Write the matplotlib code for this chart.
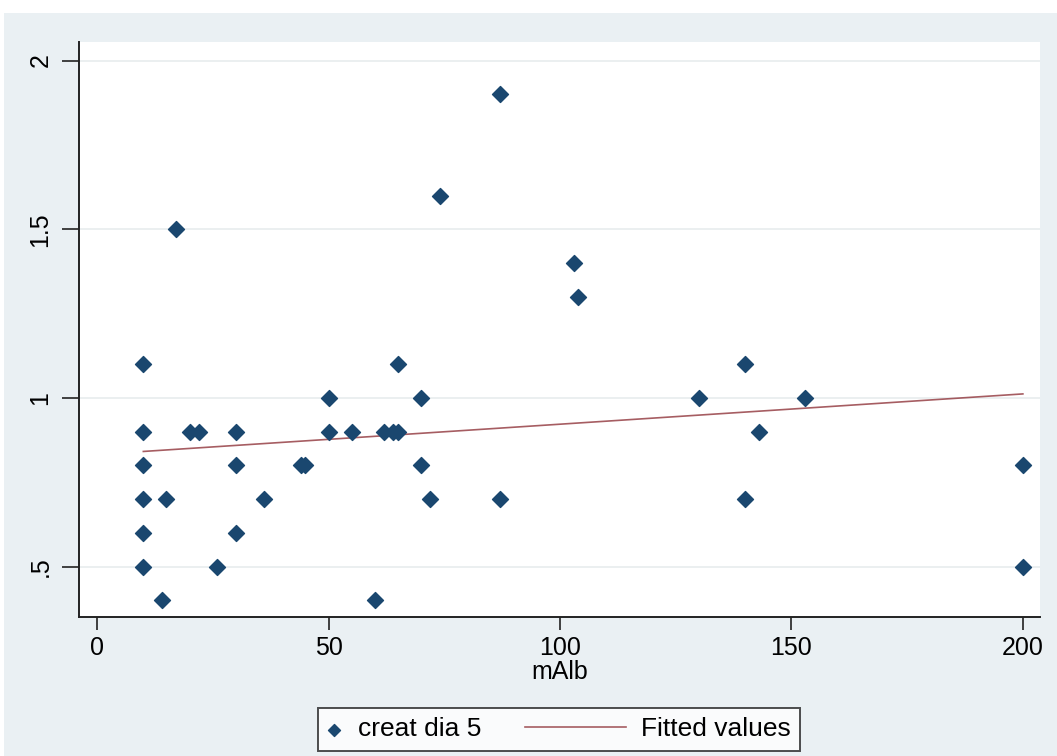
import numpy as np
import matplotlib
matplotlib.use('Agg')
import matplotlib.pyplot as plt
from matplotlib.patches import Rectangle
from matplotlib.legend_handler import HandlerLine2D

plt.rcParams['font.family'] = ['Liberation Sans', 'DejaVu Sans']

# data
malb = [87, 74, 17, 103, 104,
        10, 65, 140,
        50, 70, 130, 153,
        10, 20, 22, 30, 50, 55, 62, 64, 65, 143,
        10, 30, 44, 45, 70, 200,
        10, 15, 36, 72, 87, 140,
        10, 30,
        10, 26, 200,
        14, 60]
creat = [1.9, 1.6, 1.5, 1.4, 1.3,
         1.1, 1.1, 1.1,
         1.0, 1.0, 1.0, 1.0,
         0.9, 0.9, 0.9, 0.9, 0.9, 0.9, 0.9, 0.9, 0.9, 0.9,
         0.8, 0.8, 0.8, 0.8, 0.8, 0.8,
         0.7, 0.7, 0.7, 0.7, 0.7, 0.7,
         0.6, 0.6,
         0.5, 0.5, 0.5,
         0.4, 0.4]
x = np.array(malb, dtype=float)
y = np.array(creat)
b, a = np.polyfit(x, y, 1)
xs = np.array([x.min(), x.max()])
fit = a + b * xs

bg = '#eaf0f3'
navy = '#1a476f'
maroon = '#90353b'


class LongLine(HandlerLine2D):
    # line handle that reaches back to the left of its box
    def get_xdata(self, legend, xdescent, ydescent, width, height, fontsize):
        xd = np.array([-xdescent - 3.25 * fontsize, width - xdescent + 0.1 * fontsize])
        return xd, xd


fig = plt.figure(figsize=(10.57, 7.56), dpi=100)
fig.patches.append(Rectangle((4 / 1057, 0), 1, 1 - 13 / 756, transform=fig.transFigure,
                             facecolor=bg, edgecolor='none', zorder=-10))
ax = fig.add_axes([79 / 1057, 1 - 617 / 756, 961 / 1057, 575 / 756])
ax.set_facecolor('white')

ax.scatter(x, y, marker='D', s=66, color=navy, edgecolors=navy, zorder=3, label='creat dia 5')
line, = ax.plot(xs, fit, color=maroon, lw=1.2, alpha=0.8, zorder=2, label='Fitted values')

ax.set_xlim(-3.9, 203.7)
ax.set_ylim(0.351, 2.055)
ax.set_xticks([0, 50, 100, 150, 200])
ax.set_yticks([0.5, 1, 1.5, 2])
ax.set_yticklabels(['.5', '1', '1.5', '2'], rotation=90, va='center')
ax.tick_params(axis='both', labelsize=18, width=1.2, direction='out', color='#222222')
ax.tick_params(axis='x', length=9, pad=5)
ax.tick_params(axis='y', length=12, pad=7)
ax.grid(axis='y', color='#e8ecee', lw=1.2)
ax.set_axisbelow(True)
for s in ['top', 'right']:
    ax.spines[s].set_visible(False)
for s in ['left', 'bottom']:
    ax.spines[s].set_linewidth(1.4)
    ax.spines[s].set_color('#222222')
ax.set_xlabel('mAlb', fontsize=18, labelpad=0)

leg = fig.legend(loc='center', bbox_to_anchor=(559 / 1057, 1 - 729.5 / 756), ncol=2,
                 fontsize=19, frameon=True, fancybox=False, edgecolor='#222222',
                 handlelength=0.5, columnspacing=4.9, handletextpad=0.66, borderpad=0.36,
                 markerscale=0.75, handler_map={line: LongLine()})
leg.get_frame().set_linewidth(1.4)

plt.savefig('out.png', dpi=100)
